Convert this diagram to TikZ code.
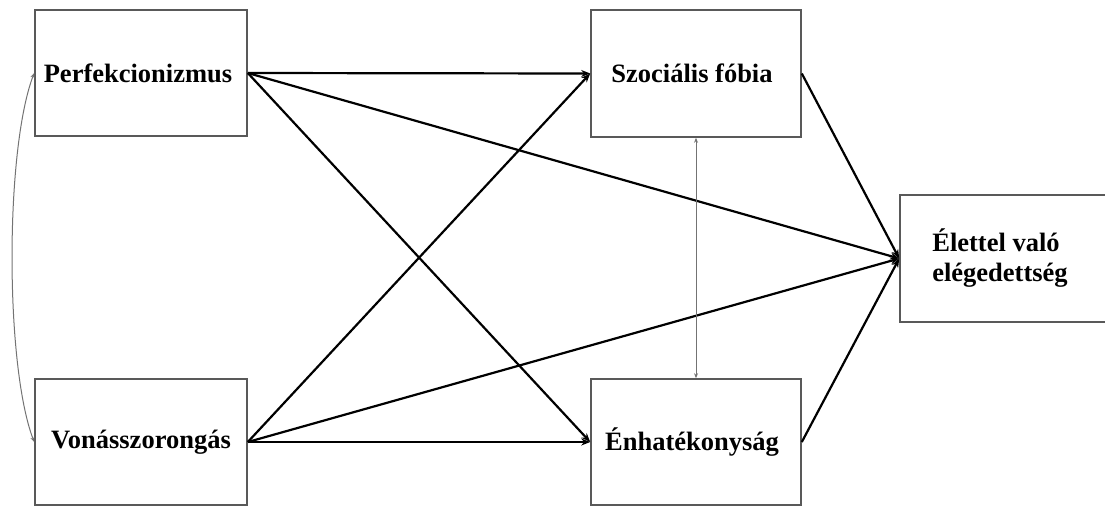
\documentclass[tikz,border=0pt]{standalone}
\usepackage{fontspec}
\setmainfont{Liberation Serif}
\usetikzlibrary{arrows.meta}

\begin{document}
\begin{tikzpicture}[x=1pt,y=-1pt,
    font=\fontsize{26.5}{30}\selectfont\bfseries,
    var/.style={rectangle,draw=black!65,line width=1.6pt,minimum width=212pt,minimum height=126pt,inner sep=0pt},
    path/.style={-{Stealth[length=9pt,width=7pt]},line width=2.2pt},
    cov/.style={{Stealth[length=5pt,width=4pt]}-{Stealth[length=5pt,width=4pt]},draw=black!55,line width=1pt}]
        \useasboundingbox (0,0) rectangle (1105,507);
        \clip (0,0) rectangle (1105,507);
        \node (Perf) at (141,73) [var] {\hspace*{-6pt}Perfekcionizmus};
        \node (Anx) at (141,442) [var] {Vonásszorongás};
        \node (Fob) at (696,73.5) [var,minimum width=210pt,minimum height=127pt] {\hspace*{-8pt}Szociális fóbia};
        \node (Eff) at (696,442) [var,minimum width=210pt] {\hspace*{-8pt}Énhatékonyság};
        \node (Sat) at (1005,258.5) [var,minimum width=210pt,minimum height=127pt,align=left] {\hspace*{-10pt}Élettel való\\\hspace*{-10pt}elégedettség};
        \draw [path] (Perf.east) -- (Fob.west);
        \draw [path] (Perf.east) -- (Eff.west);
        \draw [path] (Perf.east) -- (Sat.west);
        \draw [path] (Anx.east) -- (Fob.west);
        \draw [path] (Anx.east) -- (Eff.west);
        \draw [path] (Anx.east) -- (Sat.west);
        \draw [path] (Fob.east) -- (Sat.west);
        \draw [path] (Eff.east) -- (Sat.west);
        \draw [cov] (Fob.south) -- (Eff.north);
        \draw [cov] (Perf.west) .. controls (5,150) and (5,365) .. (Anx.west);
      \end{tikzpicture}
\end{document}
